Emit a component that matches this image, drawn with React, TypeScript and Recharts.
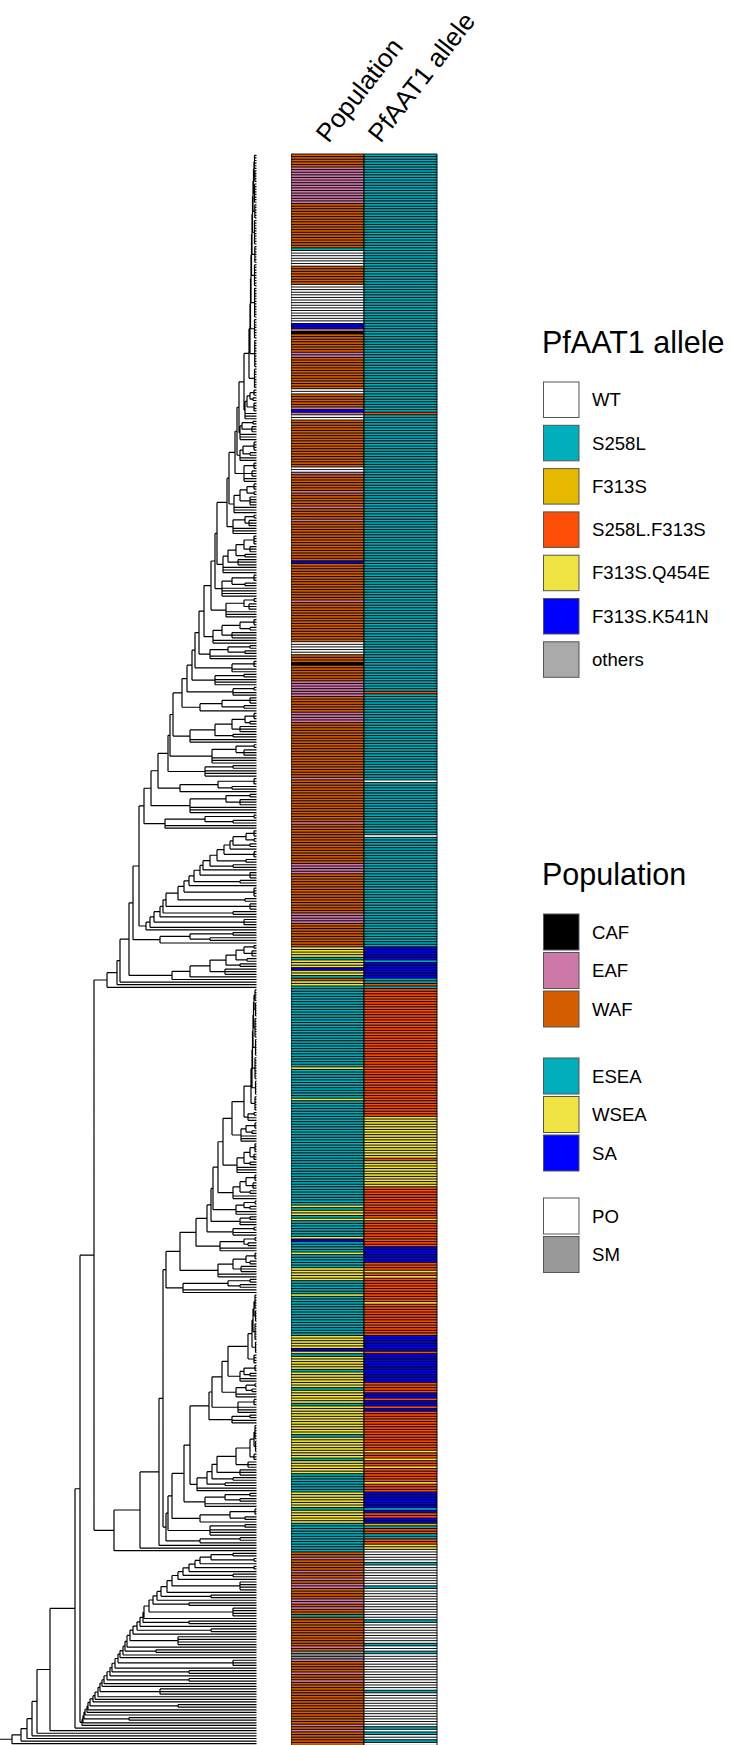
import { BarChart, Bar, Cell, LineChart, Line, XAxis, YAxis } from "recharts";

const FONT = '"Liberation Sans", Arial, Helvetica, sans-serif';

const popColors: Record<string, string> = {
  CAF: "#000000",
  EAF: "#CC79A7",
  WAF: "#D55E00",
  ESEA: "#00AFBB",
  WSEA: "#F0E442",
  SA: "#0000FF",
  PO: "#FFFFFF",
  SM: "#999999",
};

const alleleColors: Record<string, string> = {
  WT: "#FFFFFF",
  S258L: "#00AFBB",
  F313S: "#E7B800",
  "S258L.F313S": "#FC4E07",
  "F313S.Q454E": "#F0E442",
  "F313S.K541N": "#0000FF",
  others: "#AAAAAA",
};

const columnLabels = ["Population", "PfAAT1 allele"];
const alleleLegend = ["WT", "S258L", "F313S", "S258L.F313S", "F313S.Q454E", "F313S.K541N", "others"];
const popLegendGroups = [["CAF", "EAF", "WAF"], ["ESEA", "WSEA", "SA"], ["PO", "SM"]];

// heatmap rows, top to bottom, as [level, number of rows]
const popRuns: [string, number][] = [
  ["WAF", 5], ["EAF", 14], ["WAF", 17], ["ESEA", 1], ["PO", 6], ["WAF", 7], ["PO", 15], ["SA", 2], ["EAF", 1], ["CAF", 1],
  ["WAF", 7], ["EAF", 2], ["WAF", 12], ["PO", 2], ["WAF", 5], ["EAF", 1], ["SA", 1], ["EAF", 1], ["PO", 2], ["WAF", 18],
  ["PO", 2], ["EAF", 1], ["WAF", 6], ["EAF", 1], ["WAF", 5], ["EAF", 1], ["WAF", 4], ["EAF", 1], ["WAF", 15], ["SA", 1],
  ["WAF", 14], ["EAF", 1], ["WAF", 15], ["PO", 5], ["WAF", 3], ["CAF", 1], ["WAF", 6], ["EAF", 6], ["WAF", 6], ["EAF", 4],
  ["WAF", 21], ["EAF", 1], ["WAF", 16], ["EAF", 1], ["WAF", 15], ["EAF", 4], ["WAF", 15], ["EAF", 4], ["WAF", 9],
  ["WSEA", 4], ["ESEA", 1], ["WSEA", 3], ["SA", 1], ["WSEA", 2], ["ESEA", 1], ["WAF", 1], ["WSEA", 2], ["ESEA", 1],
  ["ESEA", 30], ["WSEA", 1], ["ESEA", 11], ["WSEA", 1], ["ESEA", 40], ["WSEA", 1], ["ESEA", 1], ["WSEA", 2], ["ESEA", 1], ["WSEA", 1],
  ["ESEA", 6], ["WSEA", 1], ["SA", 1], ["ESEA", 4], ["WSEA", 1], ["ESEA", 5], ["WSEA", 5], ["ESEA", 5], ["WSEA", 1], ["ESEA", 15],
  ["WSEA", 5], ["SA", 1], ["WSEA", 1], ["ESEA", 1], ["WSEA", 5], ["ESEA", 1], ["WSEA", 6], ["ESEA", 1], ["WSEA", 5], ["ESEA", 1],
  ["WSEA", 11], ["ESEA", 1], ["WSEA", 8], ["ESEA", 1], ["WSEA", 5], ["ESEA", 7], ["WSEA", 6], ["ESEA", 1], ["WSEA", 5], ["ESEA", 11],
  ["WAF", 2], ["EAF", 1], ["WAF", 4], ["EAF", 1], ["WAF", 2], ["EAF", 1], ["WAF", 1], ["EAF", 2], ["WAF", 4], ["EAF", 2],
  ["WAF", 1], ["EAF", 1], ["WAF", 2], ["ESEA", 1], ["WAF", 11], ["EAF", 1], ["WAF", 1], ["SM", 3], ["EAF", 1], ["WAF", 4],
  ["EAF", 1], ["WAF", 2], ["EAF", 1], ["WAF", 16], ["EAF", 1], ["WAF", 1], ["EAF", 1], ["WAF", 5],
];

const alleleRuns: [string, number][] = [
  ["S258L", 99], ["S258L.F313S", 1], ["S258L", 106], ["S258L.F313S", 1], ["S258L", 33], ["WT", 1], ["S258L", 20], ["WT", 1], ["S258L", 42],
  ["F313S.K541N", 5], ["S258L", 1], ["F313S.K541N", 6], ["S258L", 2], ["S258L.F313S", 1], ["S258L", 1],
  ["S258L.F313S", 49], ["F313S.Q454E", 16], ["S258L.F313S", 1], ["F313S.Q454E", 10], ["S258L.F313S", 12], ["F313S.Q454E", 1], ["S258L.F313S", 10],
  ["F313S.K541N", 6], ["S258L.F313S", 3], ["F313S.Q454E", 1], ["S258L.F313S", 1], ["F313S.Q454E", 1], ["S258L.F313S", 9], ["F313S.Q454E", 1], ["S258L.F313S", 12],
  ["F313S.K541N", 6], ["S258L.F313S", 1], ["F313S.K541N", 11], ["S258L.F313S", 4], ["F313S.K541N", 2], ["S258L.F313S", 1], ["F313S.K541N", 2], ["S258L.F313S", 1], ["F313S.K541N", 1],
  ["S258L.F313S", 15], ["F313S.Q454E", 1], ["S258L.F313S", 2], ["F313S.Q454E", 1], ["S258L.F313S", 2], ["F313S.Q454E", 1], ["S258L.F313S", 5], ["F313S.Q454E", 1], ["S258L.F313S", 3],
  ["F313S.K541N", 6], ["S258L", 1], ["F313S.K541N", 1], ["S258L.F313S", 2], ["F313S.K541N", 2], ["F313S", 1], ["S258L", 1], ["S258L.F313S", 2], ["S258L", 2], ["S258L.F313S", 2], ["F313S.Q454E", 2],
  ["WT", 5], ["S258L", 1], ["WT", 8], ["S258L", 1], ["WT", 12], ["S258L", 1], ["WT", 8], ["S258L", 1], ["WT", 2], ["S258L", 1],
  ["WT", 14], ["S258L", 1], ["WT", 13], ["S258L", 1], ["WT", 1], ["S258L", 1], ["WT", 2], ["S258L", 1], ["WT", 1],
];

// tree, tips aligned. "(a,b)x" = node at depth x, a bare number n = n tips,
// "<first;x:side;x:side>" = ladder: each step joins what came before with the side clade at depth x
const TIP = 256.5;

const topAfrica =
  "<(6)254.5;254:(5)254.8;253.5:(8)254.5;253:(6)254.8;252.5:(10)254.5;252:(7)254.8;251.5:(9)254.5;251:(12)254.6;250.5:(8)254.5;250:(11)254.7;249:(8)254.5>";

const upperAfrica = `<${topAfrica};
244:<(3)254;250:(2)253;247:(4)254;245:3>;
239:<(2)253;242:(3)252;240:3>;
237:<(4)254;243:(2)250;240:2>;
235:((3)254,(3)252,2)244;
229:<(3)254;247:(2)254;240:(4)250;234:3>;
227:<(2)254;245:(3)249;233:3>;
217:<(4)254;244:(3)250;236:(2)245;228:(3)238;223:3>;
215:<(3)254;232:(2)245;222:4>;
211:<(2)254;244:(3)249;226:3>;
204:<(3)254;240:(2)250;222:(3)232;213:2>;
199:<(2)250;228:(2)245;210:2>;
195:<(3)254;232:2>;
192:<(2)244;215:3>;
187:<(2)254;233:2>;
182:<(3)250;222:(2)244;200:1>;
173:<(3)254;245:(2)250;232:(3)240;215:(2)233;190:2>;
170:<(2)254;236:(3)244;212:3>;
168:<(2)233;205:3>;
158:<(3)254;218:(2)232;180:1>;
151:<(2)250;226:(3)240;190:3>;
144:<(2)254;205:(2)233;165:2>;
139:<(3)254;246:(2)254;233:(2)250;230:1;224:(3)254;217:(2)246;210:(2)233;203:1;200:(3)250;194:(2)240;189:1;184:(4)254;178:(2)245;166:(3)250;163:(2)233;160:1;154:(3)244;150:1;146:1>;
133:<(2)233;190:(2)210;160:1>;
129:<(2)254;244:(3)252;236:(2)247;226:(2)240;210:(3)225;190:1;172:1>;
120:1;117:1;107:1>`;

const upperAsia = `<<(5)255;254:(6)255.5;253.5:(8)255;253:(7)255.5;252.5:(9)255;252:(6)255.5;251:(6)255>;
244:<(2)254;248:2>;
232:<(3)255;246:(2)252;241:3>;
223:<(4)255;250:(3)254;244:(2)250;237:3>;
218:<(3)255;246:(3)253;240:(2)250;233:2>;
213:<(2)255;244:(2)250;236:2>;
211:<(2)250;240:2>;
207:<(2)254;233:2>;
196:<(2)255;244:(2)248;220:2>;
180:<(3)255;246:(2)250;233:(3)241;218:2>;
166:<(2)250;228:(2)240;183:2>>`;

const lowerAsia = `<<(6)255;254:(5)255.5;253:(7)255;252:(5)255.5;248:(4)254>;
228:<(3)255;244:(2)250;240:2>;
222:<(2)255;246:(2)252;236:2>;
212:<(3)254;238:3>;
209:<(2)250;232:2>;
190:<(6)255;254:(5)255.5;250:(3)254;236:(3)248;217:(3)240;212:(2)233;207:(2)225;197:2>;
184:<(2)250;225:(2)240;205:2>;
172:<(3)255;230:(2)245;200:1>;
168:<(2)245;210:3>;
166:<(2)240;200:1>>`;

const asia = `<${upperAsia};163:${lowerAsia};159:1;140:1;114:1>`;

const bottomAfrica = `<(2)233;211:(2)254;200:1;195:(2)254;189:1;183:(2)233;178:1;172:(4)240;167:1;161:(2)211;157:1;
153:(2)189;149:(4)233;144:1;143:(2)189;140:1;137:(2)211;133:1;130:(4)178;127:1;125:(2)156;123:1;120:1;
118:(3)233;115:1;112:(2)189;110:1;107:(2)189;104:1;102:1;100:(3)160;98:1;95:1;93:1;90:(2)178;88:1;87:1;
85:1;84:(2)129;83:1;82:1>`;

const treeSource = `<((${upperAfrica},${asia})94,${bottomAfrica})80;75:1;50:1;37:1;32:1;27:1;21:1;12:1>`;

type TNode = { x: number; c: (TNode | number)[] };

function parseTree(src: string): TNode {
  const s = src.replace(/\s+/g, "");
  let i = 0;
  const num = () => {
    const j = i;
    while (i < s.length && /[0-9.]/.test(s[i])) i++;
    return parseFloat(s.slice(j, i));
  };
  const item = (): TNode | number => {
    if (s[i] === "(") {
      i++;
      const c = [item()];
      while (s[i] === ",") {
        i++;
        c.push(item());
      }
      i++;
      return { x: num(), c };
    }
    if (s[i] === "<") {
      i++;
      let cur = item();
      while (s[i] === ";") {
        i++;
        const x = num();
        i++;
        const side = item();
        cur = { x, c: [cur, side] };
      }
      i++;
      return cur;
    }
    return num();
  };
  return item() as TNode;
}

function treeSegments(root: TNode) {
  const pts: { x: number; y: number | null }[] = [];
  let leaf = 0;
  const seg = (x1: number, y1: number, x2: number, y2: number) => {
    pts.push({ x: x1, y: y1 }, { x: x2, y: y2 }, { x: x2, y: null });
  };
  const place = (n: TNode): number => {
    const ys: number[] = [];
    for (const ch of n.c) {
      if (typeof ch === "number") {
        for (let k = 0; k < ch; k++) {
          const y = leaf++;
          ys.push(y);
          seg(n.x, y, TIP, y);
        }
      } else {
        const y = place(ch);
        ys.push(y);
        seg(n.x, y, ch.x, y);
      }
    }
    const y0 = Math.min(...ys);
    const y1 = Math.max(...ys);
    seg(n.x, y0, n.x, y1);
    return (y0 + y1) / 2;
  };
  const rootY = place(root);
  seg(0, rootY, root.x, rootY);
  return pts;
}

const expand = (runs: [string, number][]) => runs.flatMap(([k, n]) => Array(n).fill(k) as string[]);

const popRows = expand(popRuns);
const alleleRows = expand(alleleRuns);
const rows = popRows.map((p, i) => ({ row: i, pop: 1, allele: 1, popName: p, alleleName: alleleRows[i] ?? "WT" }));
const N = rows.length;
const treePoints = treeSegments(parseTree(treeSource));

const PLOT_TOP = 154;
const HEIGHT = 1745;
const labelShift = [1, -20];

function ColumnLabel(props: any) {
  const { x, y, index } = props;
  const ax = x + (labelShift[index] ?? 0);
  return (
    <text
      x={ax}
      y={y}
      transform={`rotate(-52, ${ax}, ${y})`}
      textAnchor="start"
      fontSize={26}
      fontFamily={FONT}
      fill="#000"
    >
      {columnLabels[index]}
    </text>
  );
}

function LegendKey({ top, color, label, h }: { top: number; color: string; label: string; h: number }) {
  return (
    <g>
      <rect x={543.5} y={top} width={35.5} height={h} fill={color} stroke="#555" strokeWidth={1} />
      <text x={592} y={top + h / 2 + 6.5} fontSize={18.6} fontFamily={FONT} fill="#000">
        {label}
      </text>
    </g>
  );
}

function Legends() {
  const groupTops = [914, 1058, 1198];
  return (
    <svg width={732} height={HEIGHT} style={{ position: "absolute", left: 0, top: 0, pointerEvents: "none" }}>
      <text x={542} y={353} fontSize={30.5} fontFamily={FONT} fill="#000">
        PfAAT1 allele
      </text>
      {alleleLegend.map((a, i) => (
        <LegendKey key={a} top={382 + i * 43.3} h={35.5} color={alleleColors[a]} label={a} />
      ))}
      <text x={542} y={885} fontSize={30.5} fontFamily={FONT} fill="#000">
        Population
      </text>
      {popLegendGroups.map((g, gi) =>
        g.map((p, i) => (
          <LegendKey key={p} top={groupTops[gi] + i * 38.5} h={36} color={popColors[p]} label={p} />
        ))
      )}
    </svg>
  );
}

export default function App() {
  return (
    <div style={{ position: "absolute", left: 0, top: 0, width: 732, height: HEIGHT, background: "#fff", overflow: "hidden" }}>
      <div style={{ position: "absolute", left: 0, top: 0 }}>
        <LineChart width={260} height={HEIGHT} data={treePoints} margin={{ top: PLOT_TOP, right: 0, bottom: 0, left: 0 }}>
          <XAxis dataKey="x" type="number" domain={[0, 260]} hide allowDataOverflow />
          <YAxis type="number" domain={[-0.5, N - 0.5]} reversed hide allowDataOverflow />
          <Line
            dataKey="y"
            type="linear"
            stroke="#000"
            strokeWidth={1.2}
            dot={false}
            activeDot={false}
            connectNulls={false}
            isAnimationActive={false}
          />
        </LineChart>
      </div>
      <div style={{ position: "absolute", left: 291, top: 0 }}>
        <BarChart
          width={441}
          height={HEIGHT}
          data={rows}
          layout="vertical"
          barCategoryGap={0}
          barGap={0}
          margin={{ top: 0, right: 295, bottom: 0, left: 0 }}
        >
          <XAxis
            type="number"
            orientation="top"
            domain={[0, 2]}
            ticks={[0.5, 1.5]}
            height={PLOT_TOP}
            axisLine={false}
            tickLine={false}
            tickSize={0}
            tickMargin={10}
            interval={0}
            tick={<ColumnLabel />}
          />
          <YAxis type="category" dataKey="row" hide />
          <Bar dataKey="pop" stackId="h" stroke="#000" strokeWidth={0.9} isAnimationActive={false}>
            {rows.map((r) => (
              <Cell key={`p${r.row}`} fill={popColors[r.popName]} />
            ))}
          </Bar>
          <Bar dataKey="allele" stackId="h" stroke="#000" strokeWidth={0.9} isAnimationActive={false}>
            {rows.map((r) => (
              <Cell key={`a${r.row}`} fill={alleleColors[r.alleleName]} />
            ))}
          </Bar>
        </BarChart>
      </div>
      <Legends />
    </div>
  );
}
